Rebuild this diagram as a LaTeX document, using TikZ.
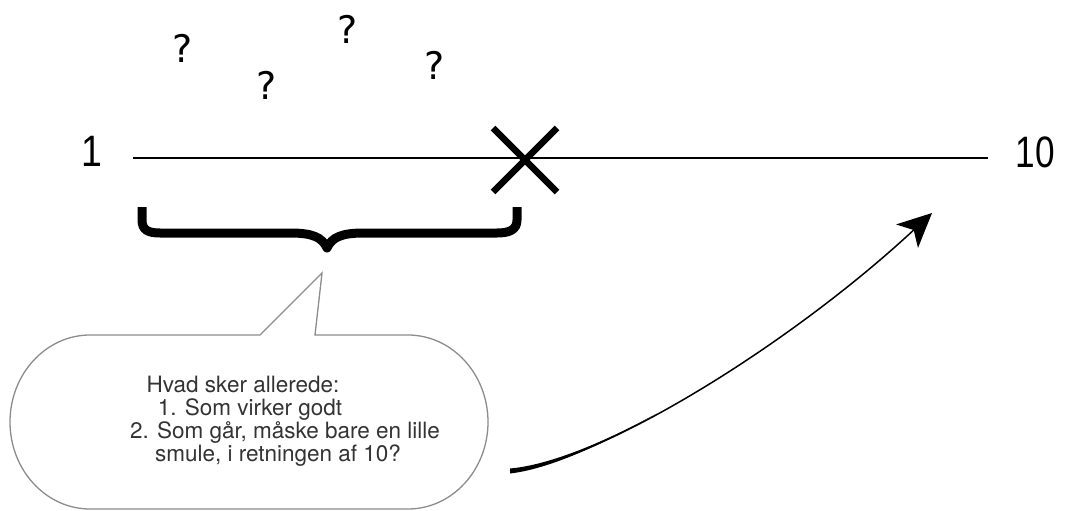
\documentclass[tikz,border=0pt]{standalone}
\usepackage{fontspec}
\setmainfont{TeX Gyre Heros}
\newfontfamily\digitfont{Liberation Sans}
\newfontfamily\qfont{DejaVu Sans}
\usetikzlibrary{arrows.meta}

\begin{document}
\begin{tikzpicture}[x=1pt, y=-1pt,
  endlabel/.style={font=\digitfont\fontsize{44}{44}\selectfont, inner sep=0pt},
  qmark/.style={font=\qfont\fontsize{38}{38}\selectfont, inner sep=0pt},
  bubbletext/.style={font=\fontsize{22.5}{24}\selectfont, text=black!80, inner sep=0pt, anchor=base},
  bubble/.style={draw=black!45, line width=1.3pt},
  scaleline/.style={line width=2pt},
  braceline/.style={line width=9pt, line join=round},
  cross/.style={line width=6.5pt},
  arrowline/.style={line width=1.5pt, -{Stealth[length=34pt, width=32pt, inset=9pt]}}]
  \useasboundingbox (0,0) rectangle (1069,511);

  % the scale from 1 to 10
  \node[endlabel] (one) at (92,151) {\scalebox{0.85}[1]{1}};
  \node[endlabel] (ten) at (1035,152) {\scalebox{0.8}[1]{10}};
  \coordinate (lstart) at (133,158);
  \coordinate (lend) at (988,158);
  \draw[scaleline] (lstart) -- (lend);

  % where we are now
  \coordinate (now) at (525,159);
  \draw[cross] (now) ++(-32,-31) -- ++(64,64);
  \draw[cross] (now) ++(32,-31) -- ++(-64,64);

  % question marks
  \node[qmark] (q1) at (183,48) {?};
  \node[qmark] (q2) at (267,85) {?};
  \node[qmark] (q3) at (348,29) {?};
  \node[qmark] (q4) at (435,65) {?};

  % brace under the part already reached
  \draw[braceline] (142,207) -- (142,220) .. controls (142,230) and (148,233) .. (160,233)
    -- (290,233) .. controls (312,233) and (322,237) .. (327,248)
    .. controls (332,237) and (342,233) .. (364,233)
    -- (497,233) .. controls (509,233) and (517,230) .. (517,220) -- (517,207);

  % speech bubble
  \draw[bubble] (260,335) -- (90,335) .. controls (46,335) and (10,374) .. (10,422)
    .. controls (10,470) and (46,509) .. (90,509) -- (408,509)
    .. controls (452,509) and (488,470) .. (488,422)
    .. controls (488,374) and (452,335) .. (408,335) -- (315,335) -- (322,273) -- cycle;
  \node[bubbletext] (t1) at (243,392) {Hvad sker allerede:};
  \node[bubbletext] (t2) at (250,415) {1. Som virker godt};
  \node[bubbletext] (t3) at (285,438) {2. Som går, måske bare en lille};
  \node[bubbletext] (t4) at (278,461) {smule, i retningen af 10?};

  % arrow towards 10
  \coordinate (from) at (510,471);
  \coordinate (to) at (932,213);
  \fill (510,468.5) .. controls (546,465.4) and (598,445.5) .. (656.5,413.6)
    .. controls (598,447.5) and (546,469.4) .. (510,473.5) -- cycle;
  \draw[arrowline] (from) .. controls (600,462) and (790,345) .. (to);
\end{tikzpicture}
\end{document}
